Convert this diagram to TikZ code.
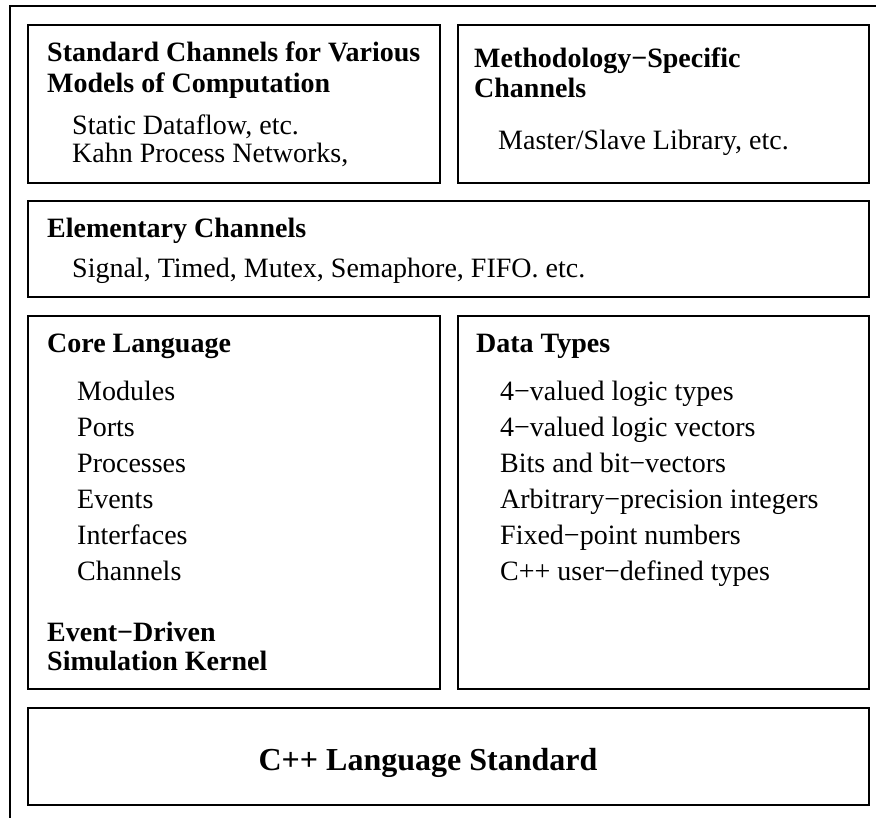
\documentclass[tikz,border=0pt]{standalone}
\usepackage{fontspec}
\setmainfont{Liberation Serif}
\begin{document}
\begin{tikzpicture}[x=1pt,y=-1pt,
  box/.style={draw=black,line width=1.8pt},
  frame/.style={draw=black,line width=2pt},
  head/.style={anchor=base west,inner sep=0pt,font=\fontsize{28}{31}\selectfont\bfseries},
  item/.style={anchor=base west,inner sep=0pt,font=\fontsize{28}{31}\selectfont},
  title/.style={anchor=base,inner sep=0pt,font=\fontsize{32}{36}\selectfont\bfseries}]
\useasboundingbox (0,0) rectangle (876,818);
% outer frame: left and top edges only
\draw[frame] (10,818) -- (10,6) -- (876,6);
% boxes
\draw[box] (28,25) rectangle (440,183);
\draw[box] (458,25) rectangle (869,183);
\draw[box] (28,201) rectangle (869,297);
\draw[box] (28,316) rectangle (440,689);
\draw[box] (458,316) rectangle (869,689);
\draw[box] (28,708) rectangle (869,805);
% standard channels
\node[head] (sc1) at (47,62) {Standard Channels for Various};
\node[head] (sc2) at (47,93) {Models of Computation};
\node[item] (sc3) at (72,135) {Static Dataflow, etc.};
\node[item] (sc4) at (72,163) {Kahn Process Networks,};
% methodology-specific channels
\node[head] (ms1) at (474,68) {Methodology−Specific};
\node[head] (ms2) at (474,98) {Channels};
\node[item] (ms3) at (498,150) {Master/Slave Library, etc.};
% elementary channels
\node[head] (ec1) at (47,238) {Elementary Channels};
\node[item] (ec2) at (72,278) {Signal, Timed, Mutex, Semaphore, FIFO. etc.};
% core language
\node[head] (cl0) at (47,353) {Core Language};
\node[item] (cl1) at (77,400) {Modules};
\node[item] (cl2) at (77,436) {Ports};
\node[item] (cl3) at (77,472) {Processes};
\node[item] (cl4) at (77,508) {Events};
\node[item] (cl5) at (77,544) {Interfaces};
\node[item] (cl6) at (77,580) {Channels};
\node[head] (cl7) at (47,641) {Event−Driven};
\node[head] (cl8) at (47,670) {Simulation Kernel};
% data types
\node[head] (dt0) at (476,353) {Data Types};
\node[item] (dt1) at (500,400) {4−valued logic types};
\node[item] (dt2) at (500,436) {4−valued logic vectors};
\node[item] (dt3) at (500,472) {Bits and bit−vectors};
\node[item] (dt4) at (500,508) {Arbitrary−precision integers};
\node[item] (dt5) at (500,544) {Fixed−point numbers};
\node[item] (dt6) at (500,580) {C++ user−defined types};
% language standard
\node[title] (cpp) at (428,770) {C++ Language Standard};
\end{tikzpicture}
\end{document}
